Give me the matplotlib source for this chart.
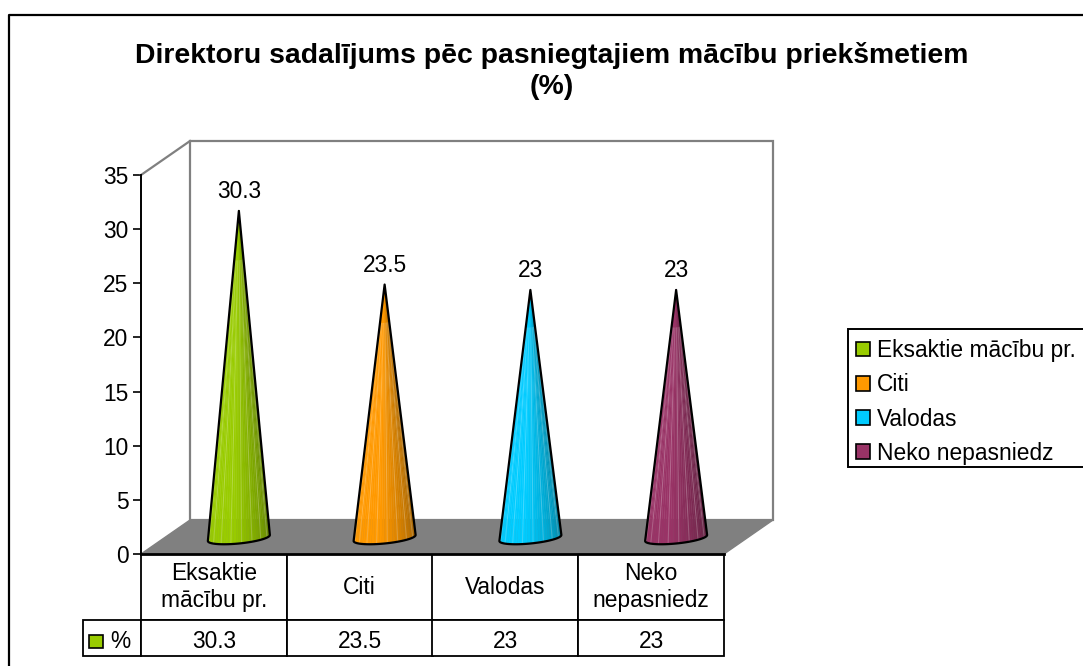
import numpy as np
import matplotlib
matplotlib.use("Agg")
import matplotlib.pyplot as plt
from matplotlib.collections import PolyCollection
from matplotlib.colors import to_rgb
from matplotlib.lines import Line2D
from matplotlib.patches import Patch, Polygon, Rectangle

categories = ["Eksaktie mācību pr.", "Citi", "Valodas", "Neko nepasniedz"]
table_headers = ["Eksaktie\nmācību pr.", "Citi", "Valodas", "Neko\nnepasniedz"]
values = [30.3, 23.5, 23, 23]
value_labels = ["30.3", "23.5", "23", "23"]
colors = ["#99CC00", "#FF9900", "#00CCFF", "#993366"]
series_name = "%"
title = "Direktoru sadalījums pēc pasniegtajiem mācību priekšmetiem\n(%)"
y_ticks = [0, 5, 10, 15, 20, 25, 30, 35]

plt.rcParams["font.family"] = ["Liberation Sans", "DejaVu Sans"]
W, H = 1083, 666
FS = 16.4
fig = plt.figure(figsize=(W / 100, H / 100), dpi=100)

def fx(x): return x / W
def fy(y): return 1 - y / H

# plot area (pixel frame of the front plane)
L, R, T, B = 141, 724, 175, 554
ax = fig.add_axes([fx(L), fy(B), (R - L) / W, (B - T) / H])
ax.set_xlim(0, 4)
ax.set_ylim(0, 35)
ax.patch.set_visible(False)
px_x = 4 / (R - L)
px_y = 35 / (B - T)
depth_x, depth_y = 49 * px_x, 34 * px_y

# back wall, floor and the side edge
GREY = "#808080"
ax.add_patch(Rectangle((depth_x, depth_y), 4, 35, fc="white", ec=GREY, lw=1.6, clip_on=False, zorder=1))
ax.add_patch(Polygon([(0, 0), (4, 0), (4 + depth_x, depth_y), (depth_x, depth_y)],
                     fc=GREY, ec=GREY, lw=1, clip_on=False, zorder=2))
ax.plot([0, depth_x], [35, 35 + depth_y], color=GREY, lw=1.6, clip_on=False, zorder=2)

# cones
shift_x, shift_y = 25 * px_x, 15 * px_y
half_w = 31
theta = np.linspace(np.pi, 0, 37)
for i, (v, c, lab) in enumerate(zip(values, colors, value_labels)):
    cx = i + 0.5 + shift_x
    tip = (cx, v + shift_y)
    bx = cx + half_w * np.cos(theta) * px_x
    by = shift_y + (1.0 + 3.0 * np.cos(theta) - 5.5 * np.sin(theta)) * px_y
    rgb = np.array(to_rgb(c))
    polys, fcs = [], []
    for k in range(len(theta) - 1):
        polys.append([tip, (bx[k], by[k]), (bx[k + 1], by[k + 1])])
        u = k / (len(theta) - 2)
        shade = 1.0 if u < 0.45 else 1.0 - 0.38 * (u - 0.45) / 0.55
        fcs.append(np.clip(rgb * shade, 0, 1))
    ax.add_collection(PolyCollection(polys, facecolors=fcs, edgecolors=fcs, linewidths=0.3,
                                     clip_on=False, zorder=3))
    # pale facet streaks
    for k in range(3, len(theta) - 2, 4):
        ax.plot([bx[k], bx[k] + (cx - bx[k]) * 0.85], [by[k], by[k] + (tip[1] - by[k]) * 0.85],
                color="white", alpha=0.2, lw=0.8, clip_on=False, zorder=4)
    outline = [tip] + list(zip(bx, by))
    ax.add_patch(Polygon(outline, closed=True, fc="none", ec="black", lw=1.6, joinstyle="round",
                         clip_on=False, zorder=5))
    ax.annotate(lab, xy=tip, xytext=(0, 19 * 0.72), textcoords="offset points", ha="center", va="center",
                fontsize=FS, color="black", zorder=6, annotation_clip=False)

# axis
for s in ("top", "right"):
    ax.spines[s].set_visible(False)
ax.spines["left"].set_linewidth(1.4)
ax.spines["bottom"].set_linewidth(2.0)
ax.spines["left"].set_zorder(7)
ax.spines["bottom"].set_zorder(7)
ax.set_xticks([])
ax.set_yticks(y_ticks)
ax.tick_params(axis="y", length=6, width=1.2, pad=3, labelsize=FS)

# data table: header text in the cells, value row text placed just below the row's centre
row_label_w = (141 - 83) / (R - L)
tbl_h = (656 - 554) / (B - T)
tbl = ax.table(cellText=[table_headers, [""] * len(values)],
               cellLoc="center", bbox=[0, -tbl_h, 1, tbl_h])
tbl.add_cell(1, -1, row_label_w, 36 / (B - T), text="")
tbl.auto_set_font_size(False)
tbl.set_fontsize(FS)
for (r, c), cell in tbl.get_celld().items():
    cell.set_linewidth(1.3)
    cell.set_edgecolor("black")
    cell.set_height((66 if r == 0 else 36) / (B - T))
    cell.set_width(row_label_w if c == -1 else 0.25)
    cell.PAD = 0.02
row_y = -(641 - B) / (B - T)
trans = ax.get_xaxis_transform()
for i, lab in enumerate(value_labels):
    ax.text(i + 0.5, row_y, lab, transform=trans, ha="center", va="center", fontsize=FS, clip_on=False)
ax.text(-(141 - 120) * px_x, row_y, series_name, transform=trans, ha="center", va="center",
        fontsize=FS, clip_on=False)

# table legend key
fig.add_artist(Rectangle((fx(89), fy(648)), 14 / W, 13 / H, fc=colors[0], ec="black", lw=1.2,
                         transform=fig.transFigure))

# chart frame
fig.add_artist(Line2D([fx(9), fx(9), fx(W)], [fy(H), fy(15), fy(15)], color="black", lw=1.6,
                      transform=fig.transFigure))

# title
fig.text(fx(552), fy(71), title, ha="center", va="center", fontsize=20.4, fontweight="bold",
         linespacing=1.28, color="black")

# legend box and legend
fig.add_artist(Rectangle((fx(848), fy(467)), (W + 10 - 848) / W, (467 - 329) / H, fc="white", ec="black",
                         lw=1.4, transform=fig.transFigure))
handles = [Patch(fc=c, ec="black", lw=1.2, label=n) for c, n in zip(colors, categories)]
leg = fig.legend(handles=handles, loc="upper left",
                 bbox_to_anchor=(fx(848), fy(331)), bbox_transform=fig.transFigure,
                 borderaxespad=0, borderpad=0.36, labelspacing=0.49, handlelength=0.6,
                 handleheight=0.6, handletextpad=0.3, fontsize=FS, frameon=False)
leg.set_zorder(5)

fig.savefig("out.png", dpi=100, facecolor="white")
